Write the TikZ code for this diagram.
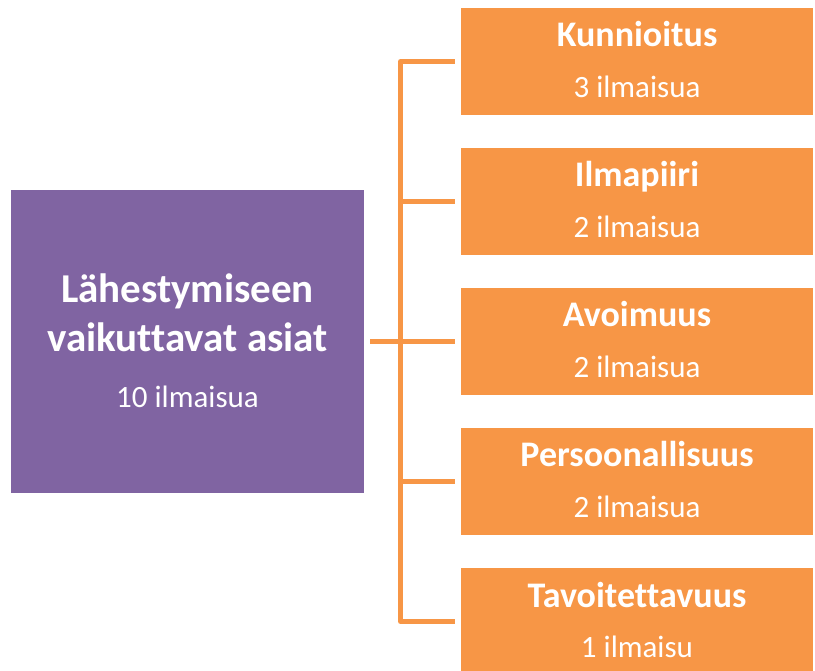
\documentclass[tikz,border=0pt]{standalone}
\usepackage{fontspec}
\setmainfont[Ligatures={NoCommon}]{Carlito}
\definecolor{boxorange}{HTML}{F79646}
\definecolor{boxpurple}{HTML}{8064A2}
\tikzset{
  rootbox/.style={fill=boxpurple, draw=none, minimum width=353pt, minimum height=303pt, inner sep=0pt},
  leafbox/.style={fill=boxorange, draw=none, minimum width=352pt, minimum height=107pt, inner sep=0pt},
  roottitle/.style={text=white, font=\fontsize{41}{49}\selectfont\bfseries, anchor=base, inner sep=0pt},
  leaftitle/.style={text=white, font=\fontsize{36}{43}\selectfont\bfseries, anchor=base, inner sep=0pt},
  countlabel/.style={text=white, font=\fontsize{31}{37}\selectfont, anchor=base, inner sep=0pt},
  conn/.style={draw=boxorange, line width=5pt, line join=round}
}
\begin{document}
\begin{tikzpicture}[x=1pt, y=-1pt]
  \clip (0,0) rectangle (815,671);
  \useasboundingbox (0,0) rectangle (815,671);

  % root box
  \node[rootbox] (root) at (187.5,341.5) {};
  \node[roottitle] (rootA) at ([yshift=38.5pt]root.center) {Lähestymiseen};
  \node[roottitle] (rootB) at ([yshift=-10.5pt]root.center) {vaikuttavat asiat};
  \node[countlabel] (rootC) at ([yshift=-65.5pt]root.center) {10 ilmaisua};

  % leaf boxes
  \foreach \i/\t/\c in {1/Kunnioitus/3 ilmaisua, 2/Ilmapiiri/2 ilmaisua, 3/Avoimuus/2 ilmaisua, 4/Persoonallisuus/2 ilmaisua, 5/Tavoitettavuus/1 ilmaisu}{
    \node[leafbox] (b\i) at (637, {61.5+140*(\i-1)}) {};
    \node[leaftitle] (t\i) at ([yshift=14.5pt]b\i.center) {\t};
    \node[countlabel] (c\i) at ([yshift=-36pt]b\i.center) {\c};
  }

  % connectors
  \coordinate (trunk) at (400.5,341.5);
  \draw[conn] ([xshift=6pt]root.east) -- (trunk |- root.east);
  \draw[conn] ([xshift=-6pt]b1.west) -- (trunk |- b1.west) -- (trunk |- b5.west) -- ([xshift=-6pt]b5.west);
  \foreach \i in {2,3,4}{
    \draw[conn] (trunk |- b\i.west) -- ([xshift=-6pt]b\i.west);
  }
\end{tikzpicture}
\end{document}
